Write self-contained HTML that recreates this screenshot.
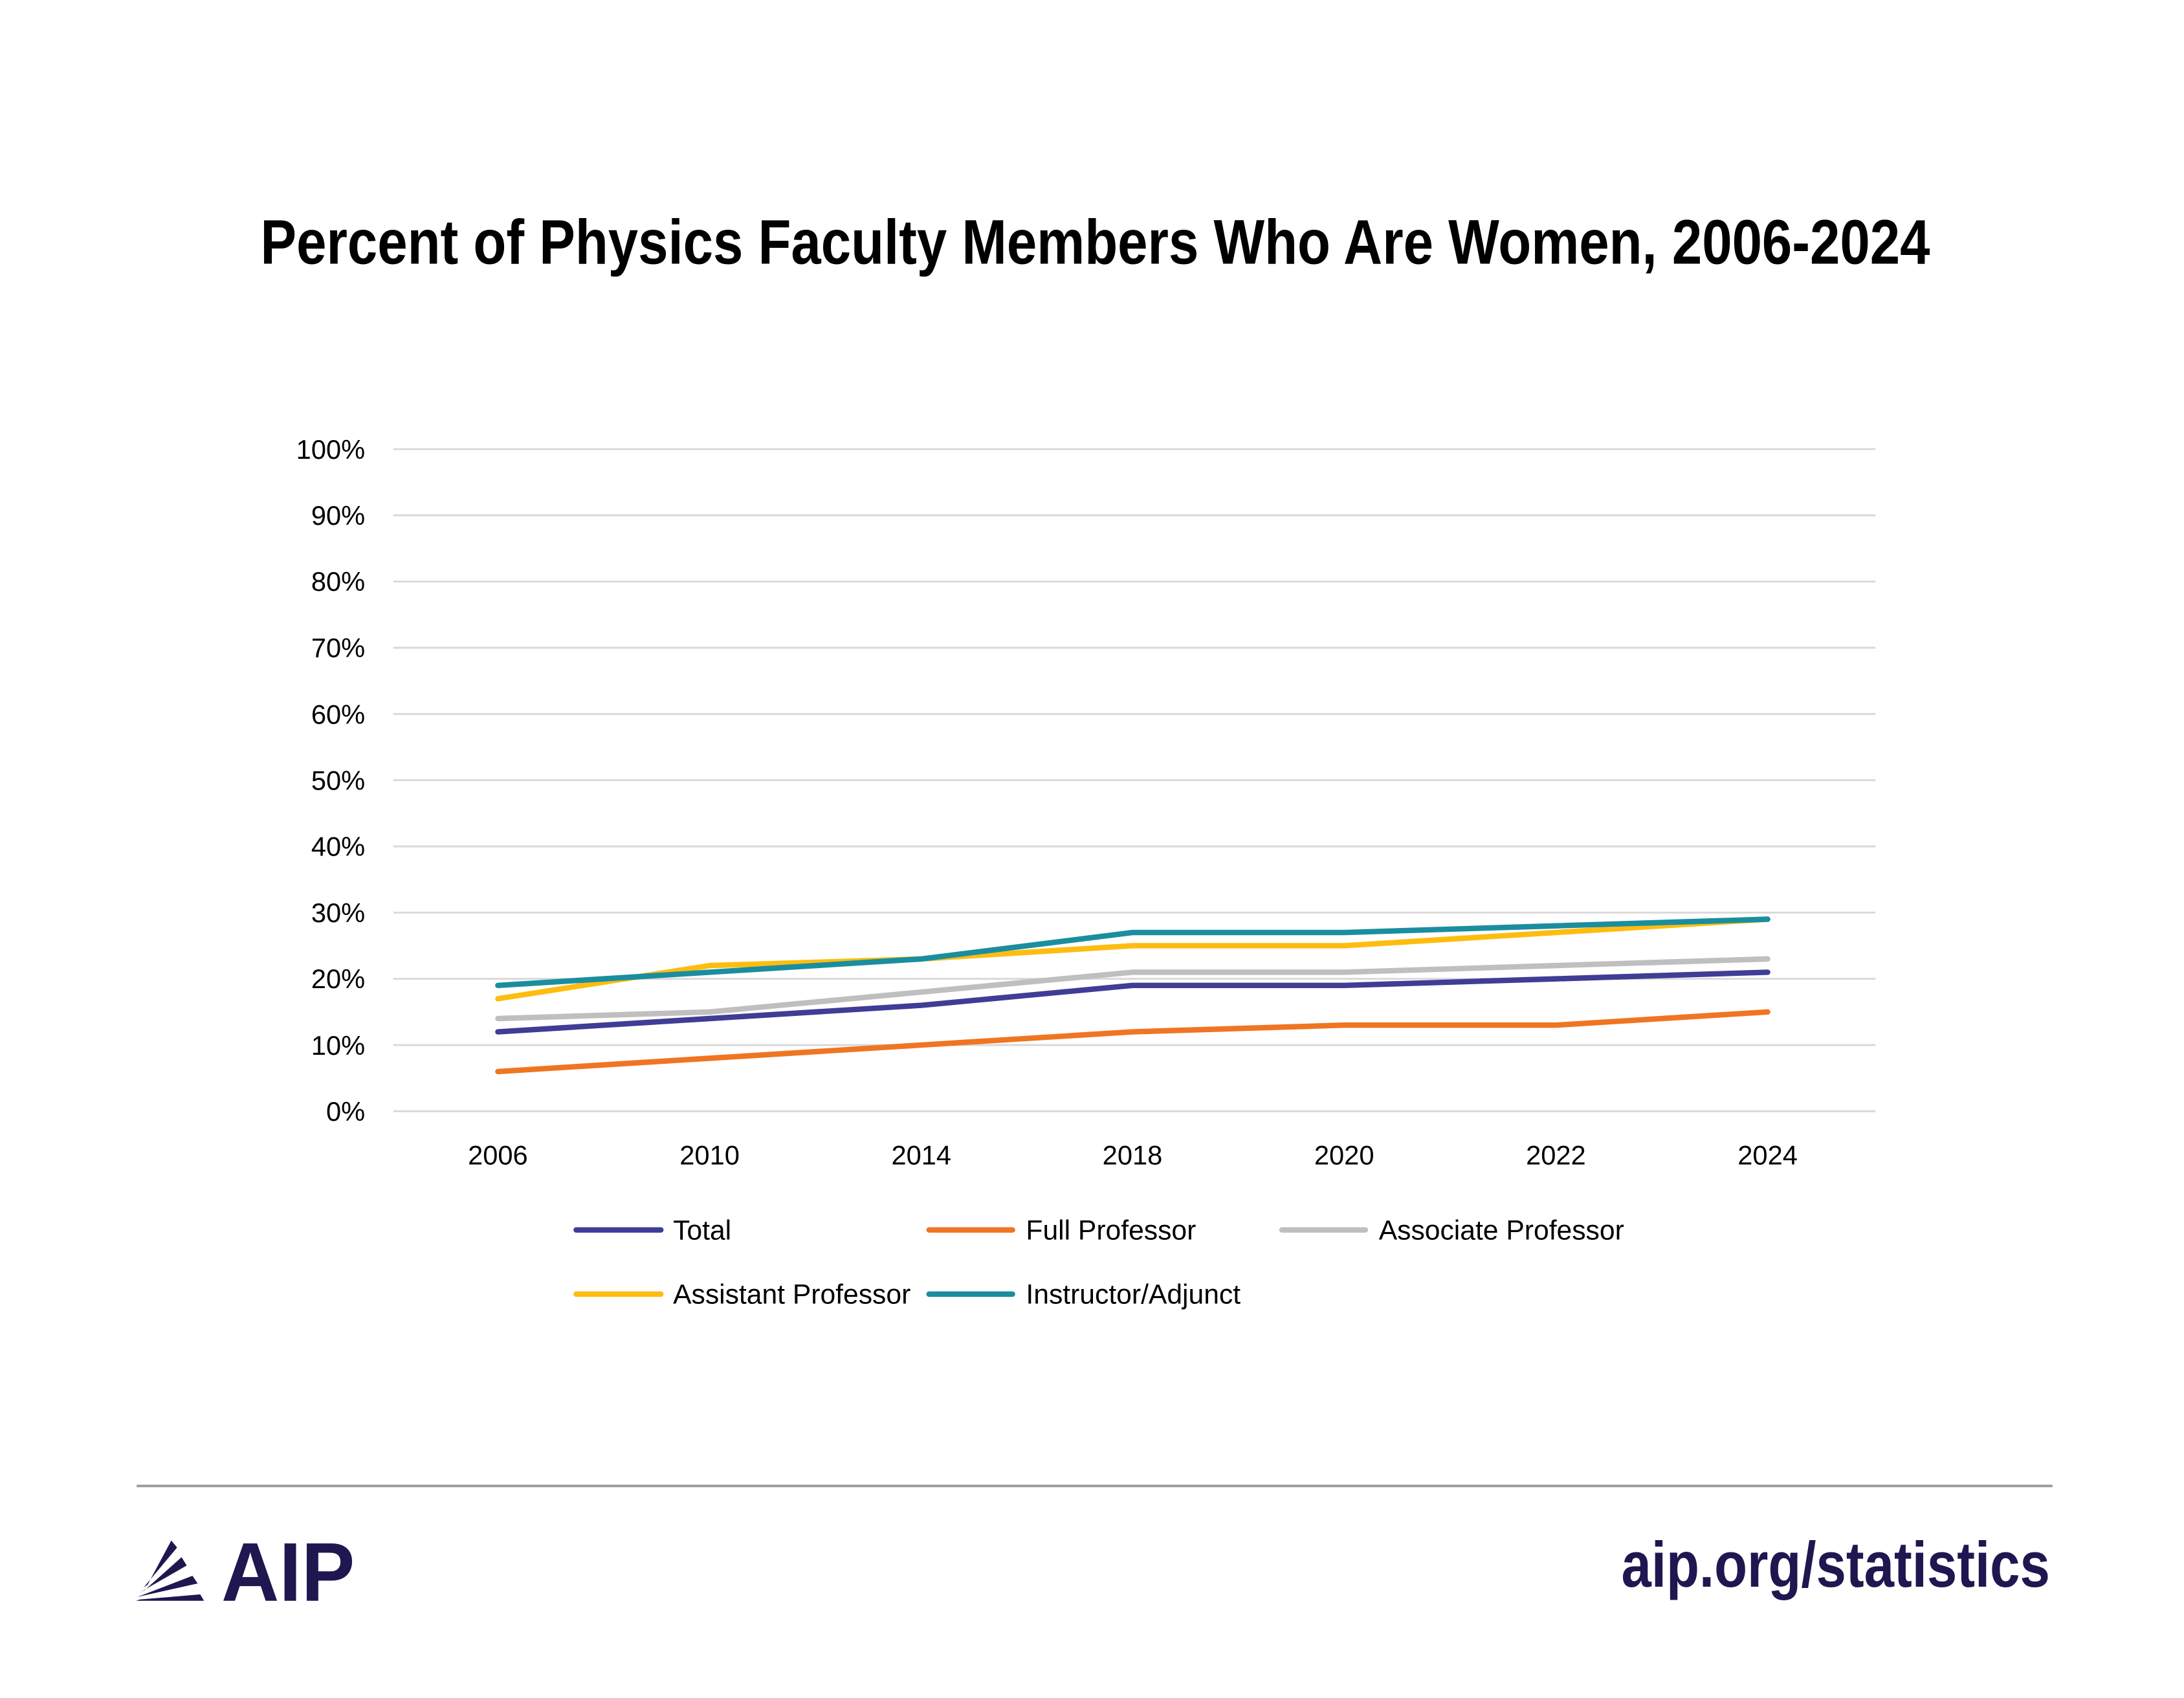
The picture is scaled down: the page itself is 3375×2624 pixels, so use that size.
<!DOCTYPE html>
<html><head><meta charset="utf-8"><style>
html,body{margin:0;padding:0;background:#fff}
svg{display:block}
text{font-family:"Liberation Sans Narrow","Liberation Sans",sans-serif}
</style></head><body>
<svg width="3375" height="2624" viewBox="0 0 3375 2624" xmlns="http://www.w3.org/2000/svg">
<rect width="3375" height="2624" fill="#fff"/>
<g transform="scale(0.9915)">
<text x="406" y="411" font-size="98" font-weight="bold" textLength="2602" lengthAdjust="spacingAndGlyphs" fill="#000">Percent of Physics Faculty Members Who Are Women, 2006-2024</text>
<g stroke="#d9d9d9" stroke-width="3">
<line x1="613" x2="2923" y1="700" y2="700"/><line x1="613" x2="2923" y1="803.2" y2="803.2"/><line x1="613" x2="2923" y1="906.4" y2="906.4"/><line x1="613" x2="2923" y1="1009.6" y2="1009.6"/><line x1="613" x2="2923" y1="1112.8" y2="1112.8"/><line x1="613" x2="2923" y1="1216" y2="1216"/><line x1="613" x2="2923" y1="1319.2" y2="1319.2"/><line x1="613" x2="2923" y1="1422.4" y2="1422.4"/><line x1="613" x2="2923" y1="1525.6" y2="1525.6"/><line x1="613" x2="2923" y1="1628.8" y2="1628.8"/><line x1="613" x2="2923" y1="1732" y2="1732"/>
</g>
<g font-size="42" fill="#000" text-anchor="end">
<text x="569" y="715">100%</text><text x="569" y="818">90%</text><text x="569" y="921">80%</text><text x="569" y="1024">70%</text><text x="569" y="1128">60%</text><text x="569" y="1231">50%</text><text x="569" y="1334">40%</text><text x="569" y="1437">30%</text><text x="569" y="1540">20%</text><text x="569" y="1644">10%</text><text x="569" y="1747">0%</text>
</g>
<g font-size="42" fill="#000" text-anchor="middle">
<text x="776" y="1815">2006</text><text x="1106" y="1815">2010</text><text x="1436" y="1815">2014</text><text x="1765" y="1815">2018</text><text x="2095" y="1815">2020</text><text x="2425" y="1815">2022</text><text x="2755" y="1815">2024</text>
</g>
<g fill="none" stroke-width="8.5" stroke-linejoin="round" stroke-linecap="round">
<polyline stroke="#3f3d96" points="776,1608.2 1106,1587.5 1436,1566.9 1765,1535.9 2095,1535.9 2425,1525.6 2755,1515.3"/>
<polyline stroke="#f07522" points="776,1670.1 1106,1649.4 1436,1628.8 1765,1608.2 2095,1597.8 2425,1597.8 2755,1577.2"/>
<polyline stroke="#bfbfbf" points="776,1587.5 1106,1577.2 1436,1546.2 1765,1515.3 2095,1515.3 2425,1504.9 2755,1494.6"/>
<polyline stroke="#fdbd10" points="776,1556.6 1106,1504.9 1436,1494.6 1765,1474.0 2095,1474.0 2425,1453.4 2755,1432.7"/>
<polyline stroke="#1a8e9f" points="776,1535.9 1106,1515.3 1436,1494.6 1765,1453.4 2095,1453.4 2425,1443.0 2755,1432.7"/>
</g>
<g stroke-width="8.5" stroke-linecap="round">
<line x1="898" x2="1030" y1="1917" y2="1917" stroke="#3f3d96"/>
<line x1="1448" x2="1578" y1="1917" y2="1917" stroke="#f07522"/>
<line x1="1998" x2="2128" y1="1917" y2="1917" stroke="#bfbfbf"/>
<line x1="898" x2="1030" y1="2017" y2="2017" stroke="#fdbd10"/>
<line x1="1448" x2="1578" y1="2017" y2="2017" stroke="#1a8e9f"/>
</g>
<g font-size="43" fill="#000">
<text x="1049" y="1932">Total</text>
<text x="1599" y="1932">Full Professor</text>
<text x="2149" y="1932">Associate Professor</text>
<text x="1049" y="2032">Assistant Professor</text>
<text x="1599" y="2032">Instructor/Adjunct</text>
</g>
<line x1="213" x2="3199" y1="2316" y2="2316" stroke="#9a9a9a" stroke-width="4"/>
<g fill="#1e1750">
<polygon points="212,2495 318,2495 312,2485 218,2493"/>
<polygon points="214,2489 308,2468 300,2456 222,2486"/>
<polygon points="218,2482 291,2440 283,2427 226,2478"/>
<polygon points="224,2474 276,2412 267,2401 230,2470"/>
</g>
<text x="345" y="2495" font-family="Liberation Sans,sans-serif" font-size="130" font-weight="bold" fill="#1e1750" textLength="208" lengthAdjust="spacingAndGlyphs">AIP</text>
<text x="2527" y="2473" font-size="100" font-weight="bold" fill="#1e1750" textLength="668" lengthAdjust="spacingAndGlyphs">aip.org/statistics</text>
</g>
</svg>
</body></html>
